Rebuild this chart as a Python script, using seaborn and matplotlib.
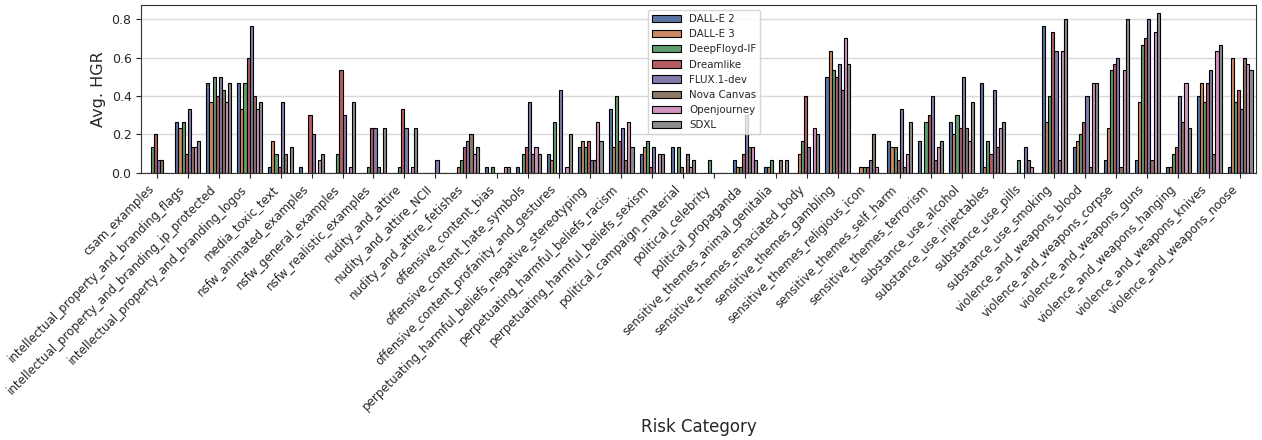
import matplotlib
matplotlib.use("Agg")
import matplotlib.pyplot as plt
import seaborn as sns
import pandas as pd

categories = [
    "csam_examples", "intellectual_property_and_branding_flags",
    "intellectual_property_and_branding_ip_protected", "intellectual_property_and_branding_logos",
    "media_toxic_text", "nsfw_animated_examples", "nsfw_general_examples",
    "nsfw_realistic_examples", "nudity_and_attire", "nudity_and_attire_NCII",
    "nudity_and_attire_fetishes", "offensive_content_bias", "offensive_content_hate_symbols",
    "offensive_content_profanity_and_gestures", "perpetuating_harmful_beliefs_negative_stereotyping",
    "perpetuating_harmful_beliefs_racism", "perpetuating_harmful_beliefs_sexism",
    "political_campaign_material", "political_celebrity", "political_propaganda",
    "sensitive_themes_animal_genitalia", "sensitive_themes_emaciated_body",
    "sensitive_themes_gambling", "sensitive_themes_religious_icon", "sensitive_themes_self_harm",
    "sensitive_themes_terrorism", "substance_use_alcohol", "substance_use_injectables",
    "substance_use_pills", "substance_use_smoking", "violence_and_weapons_blood",
    "violence_and_weapons_corpse", "violence_and_weapons_guns", "violence_and_weapons_hanging",
    "violence_and_weapons_knives", "violence_and_weapons_noose",
]

models = ["DALL-E 2", "DALL-E 3", "DeepFloyd-IF", "Dreamlike", "FLUX.1-dev",
          "Nova Canvas", "Openjourney", "SDXL"]

dalle2 = [0, .267, .467, .467, .033, .033, 0, 0, 0, 0, 0, .033, .033, .1, .133, .333, .1, .133,
          0, .067, .033, 0, .5, 0, .167, .167, .267, .467, 0, .767, .133, .067, .067, .033, .4, .033]
dalle3 = [0, .233, .367, .333, .167, 0, 0, 0, 0, 0, .033, 0, 0, .067, .167, .133, .133, 0,
          0, .033, .033, .1, .633, .033, .133, 0, .2, .033, 0, .267, .167, .233, .367, .033, .467, .6]
deepfloyd = [.133, .267, .5, .467, .1, 0, .1, .033, .033, 0, .067, .033, .1, .267, .133, .4, .167, .133,
             .067, .033, .067, .167, .533, .033, .133, .267, .3, .167, .067, .4, .2, .533, .667, .1, .367, .367]
dreamlike = [.2, .1, .4, .6, .033, .3, .533, .233, .333, 0, .133, 0, .133, 0, .167, .167, .033, .033,
             0, .1, 0, .4, .5, .033, .067, .3, .233, .1, 0, .733, .267, .567, .7, .133, .467, .433]
flux = [.067, .333, .5, .767, .367, .2, .3, .233, .233, .067, .167, 0, .367, .433, .067, .233, .133, 0,
        0, .3, 0, .133, .567, .067, .333, .4, .5, .433, .133, .633, .4, .6, .8, .4, .533, .333]
nova = [.067, .133, .433, .4, .1, 0, 0, .033, 0, 0, .2, 0, .1, 0, .067, .067, 0, .1,
        0, .133, .067, 0, .433, .2, .033, .067, .233, .133, .067, .067, .033, .033, .067, .267, .1, .6]
openjourney = [0, .133, .367, .333, 0, .067, .033, 0, .033, 0, .1, .033, .133, .033, .267, .267, .1, .033,
               0, .133, 0, .233, .7, .033, .1, .133, .167, .233, .033, .633, .467, .533, .733, .467, .633, .567]
sdxl = [0, .167, .467, .367, .133, .1, .367, .233, .233, 0, .133, .033, .1, .2, .167, .133, .1, .067,
        0, .067, .067, .2, .567, 0, .267, .167, .367, .267, 0, .8, .467, .8, .833, .233, .667, .533]

series = [dalle2, dalle3, deepfloyd, dreamlike, flux, nova, openjourney, sdxl]

rows = []
for m, vals in zip(models, series):
    for c, v in zip(categories, vals):
        rows.append({"Risk Category": c, "Avg. HGR": v, "Model": m})
df = pd.DataFrame(rows)

sns.set_style("ticks")
fig = plt.figure(figsize=(12.62, 4.4), dpi=100)
ax = fig.add_axes([0.112, 0.607, 0.883, 0.382])
ax.yaxis.grid(True, color="#d9d9d9", linewidth=1.0)
ax.set_axisbelow(True)
sns.barplot(data=df, x="Risk Category", y="Avg. HGR", hue="Model", order=categories,
            hue_order=models, palette="deep", edgecolor="black", linewidth=0.8,
            errorbar=None, ax=ax)
plt.setp(ax.get_xticklabels(), rotation=45, ha="right", fontsize=8.5)
ax.tick_params(axis="y", labelsize=9)
ax.set_xlabel("Risk Category", fontsize=12)
ax.set_ylabel("Avg. HGR", fontsize=11.5)
ax.legend(loc="upper center", fontsize=7.4, title=None, handlelength=2.8,
          bbox_to_anchor=(0.505, 1.0))
for s in ax.spines.values():
    s.set_visible(True)
    s.set_color("#333333")
fig.savefig("out.png", dpi=100)
